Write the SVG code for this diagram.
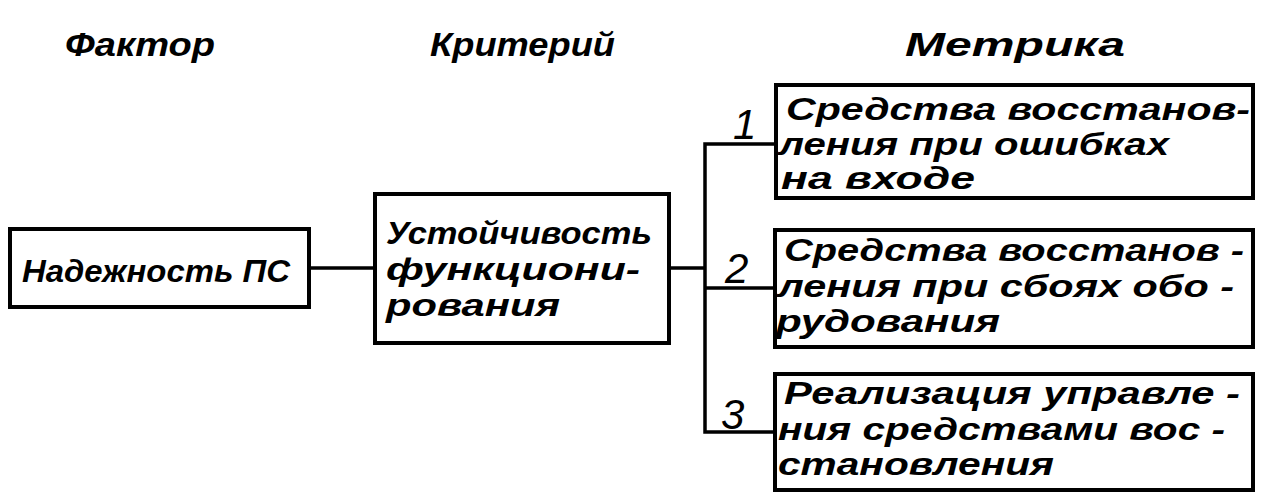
<svg xmlns="http://www.w3.org/2000/svg" width="1267" height="504" viewBox="0 0 1267 504">
<style>
.t{font-family:"Liberation Sans","DejaVu Sans",sans-serif;font-style:italic;font-weight:bold;font-size:32px;fill:#000}
.h{font-size:34px}
.n{font-size:42px;font-weight:normal}
.box{fill:#fff;stroke:#000;stroke-width:4}
.c{fill:none;stroke:#000;stroke-width:3.5;stroke-linejoin:miter}
</style>
<rect width="1267" height="504" fill="#fff"/>
<g id="headers">
<text class="t h" x="65" y="56" textLength="150" lengthAdjust="spacingAndGlyphs">Фактор</text>
<text class="t h" x="430" y="56" textLength="185" lengthAdjust="spacingAndGlyphs">Критерий</text>
<text class="t h" x="905" y="56" textLength="220" lengthAdjust="spacingAndGlyphs">Метрика</text>
</g>
<g id="connectors">
<line class="c" x1="309" y1="268" x2="375" y2="268"/>
<line class="c" x1="669" y1="268" x2="705" y2="268"/>
<polyline class="c" points="776,144 705,144 705,432 775,432"/>
<line class="c" x1="705" y1="288" x2="775" y2="288"/>
<text class="t n" x="733" y="139">1</text>
<text class="t n" x="725" y="283">2</text>
<text class="t n" x="721" y="429">3</text>
</g>
<g id="factor">
<rect class="box" x="10" y="229" width="299" height="78"/>
<text class="t" x="22" y="282" textLength="268" lengthAdjust="spacingAndGlyphs">Надежность ПС</text>
</g>
<g id="criterion">
<rect class="box" x="375" y="194" width="294" height="149"/>
<text class="t" x="386" y="244" textLength="266" lengthAdjust="spacingAndGlyphs">Устойчивость</text>
<text class="t" x="386" y="280" textLength="254" lengthAdjust="spacingAndGlyphs">функциони-</text>
<text class="t" x="386" y="316" textLength="174" lengthAdjust="spacingAndGlyphs">рования</text>
</g>
<g id="metric1">
<rect class="box" x="776" y="85" width="477" height="113"/>
<text class="t" x="786" y="120" textLength="464" lengthAdjust="spacingAndGlyphs">Средства восстанов-</text>
<text class="t" x="779" y="155" textLength="390" lengthAdjust="spacingAndGlyphs">ления при ошибках</text>
<text class="t" x="781" y="189" textLength="194" lengthAdjust="spacingAndGlyphs">на входе</text>
</g>
<g id="metric2">
<rect class="box" x="775" y="230" width="478" height="117"/>
<text class="t" x="784" y="261" textLength="460" lengthAdjust="spacingAndGlyphs">Средства восстанов -</text>
<text class="t" x="778" y="297" textLength="456" lengthAdjust="spacingAndGlyphs">ления при сбоях обо -</text>
<text class="t" x="776" y="332" textLength="224" lengthAdjust="spacingAndGlyphs">рудования</text>
</g>
<g id="metric3">
<rect class="box" x="775" y="374" width="478" height="116"/>
<text class="t" x="784" y="404" textLength="456" lengthAdjust="spacingAndGlyphs">Реализация управле -</text>
<text class="t" x="778" y="440" textLength="447" lengthAdjust="spacingAndGlyphs">ния средствами вос -</text>
<text class="t" x="778" y="475" textLength="276" lengthAdjust="spacingAndGlyphs">становления</text>
</g>
</svg>
